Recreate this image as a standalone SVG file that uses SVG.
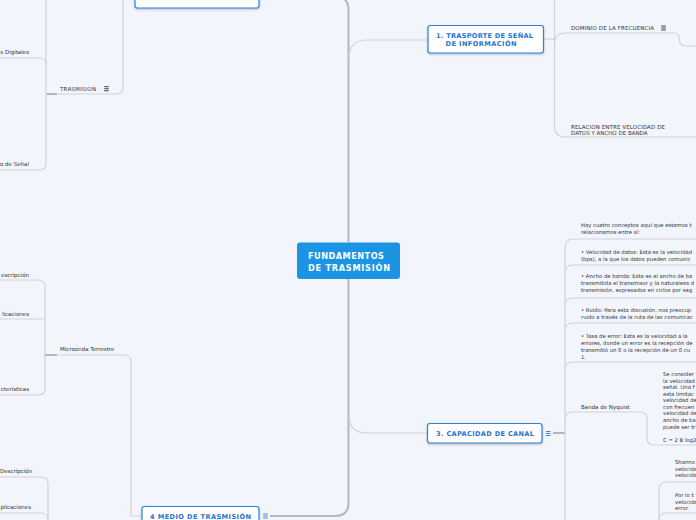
<svg xmlns="http://www.w3.org/2000/svg" width="696" height="520" viewBox="0 0 696 520">
<style>
.c{fill:none;stroke:#cfd3dc;stroke-width:1.2}
.k{fill:none;stroke:#b4b6bb;stroke-width:2}
.t{font-family:"DejaVu Sans",Verdana,sans-serif;font-size:5.5px;fill:#333}
.b{font-family:"DejaVu Sans",Verdana,sans-serif;font-size:5.3px;fill:#333}
.n{fill:#fff;stroke:#2f80d8;stroke-width:1.2}
.nt{font-family:"DejaVu Sans",Verdana,sans-serif;font-weight:bold;font-size:6.6px;fill:#1f74cf}
.ct{font-family:"DejaVu Sans",Verdana,sans-serif;font-weight:bold;font-size:8.2px;fill:#fff}
</style>
<defs>
<filter id="sh" x="-10%" y="-20%" width="120%" height="150%"><feDropShadow dx="0" dy="1" stdDeviation="0.8" flood-color="#000" flood-opacity="0.25"/></filter>
<g id="menu"><path d="M-2.3,-2H2.3M-2.3,0H2.3M-2.3,2H2.3" stroke-width="0.9"/></g>
</defs>
<rect width="696" height="520" fill="#f2f5fc"/>
<g id="connectors">
<path class="k" d="M348.5,242V10Q348.5,-4 334,-4"/>
<path class="k" d="M348.5,279V503Q348.5,516 335,516H270"/>
<path class="c" d="M349,58Q349,40 367,40H428"/>
<path class="c" d="M349,415Q349,433 367,433H427"/>
<path class="c" d="M544,39H554.5"/>
<path class="c" d="M554.5,0V126Q554.5,137 566,137H696"/>
<path class="c" d="M554.5,44Q554.5,33 566,33H673Q679.5,33 679.5,39.5Q679.5,46 686,46H696"/>
<path class="k" d="M553,433H565"/>
<path class="c" d="M696,239H574Q565,239 565,248V520"/>
<path class="c" d="M565,273Q565,265 573,265H696"/>
<path class="c" d="M565,306Q565,298 573,298H696"/>
<path class="c" d="M565,331Q565,323 573,323H696"/>
<path class="c" d="M565,370Q565,362 573,362H696"/>
<path class="c" d="M565,420Q565,412 573,412H640Q647,412 647,419V438Q647,445 654,445H696"/>
<path class="c" d="M659,520V490Q659,482 667,482H696"/>
<path class="c" d="M659,520Q659,513 667,513H696"/>
<path class="c" d="M46,94H116Q123,94 123,87V0"/>
<path class="k" d="M46,94H57"/>
<path class="c" d="M46,0V163Q46,170 39,170H0"/>
<path class="c" d="M0,58H39Q46,58 46,65"/>
<path class="c" d="M0,280H38Q45,280 45,287V388Q45,395 38,395H0"/>
<path class="c" d="M0,319H45"/>
<path class="c" d="M45,355H124Q131,355 131,362V516H142"/>
<path class="k" d="M45,355H57"/>
<path class="c" d="M0,477H41Q48,477 48,484V520"/>
<path class="c" d="M0,513H41Q48,513 48,520"/>
</g>
<g id="node-top">
<rect class="n" x="135" y="-20" width="124" height="28" rx="2.5" filter="url(#sh)"/>
</g>
<g id="node-center">
<rect x="297" y="242.5" width="103" height="36.5" rx="3" fill="#1b95e3"/>
<text class="ct" x="308" y="259" textLength="76">FUNDAMENTOS</text>
<text class="ct" x="308" y="270.5" textLength="82">DE TRASMISIÓN</text>
</g>
<g id="node-1">
<rect class="n" x="428" y="25.5" width="115.5" height="27.5" rx="2.5" filter="url(#sh)"/>
<text class="nt" x="436" y="37.6" textLength="97">1. TRASPORTE DE SEÑAL</text>
<text class="nt" x="445.5" y="46" textLength="71">DE INFORMACIÓN</text>
</g>
<g id="node-3">
<rect class="n" x="427.5" y="423.5" width="114.5" height="19.5" rx="2.5" filter="url(#sh)"/>
<text class="nt" x="436" y="436" textLength="98">3. CAPACIDAD DE CANAL</text>
<use href="#menu" x="548.3" y="433.5" stroke="#2f80d8"/>
</g>
<g id="node-4">
<rect class="n" x="142" y="506.5" width="117" height="22" rx="2.5" filter="url(#sh)"/>
<text class="nt" x="150" y="518.5" textLength="101">4 MEDIO DE TRASMISIÓN</text>
<use href="#menu" x="265.5" y="516" stroke="#2f80d8"/>
</g>
<g id="trasmision">
<text class="t" x="60" y="91" textLength="36">TRASMISIÓN</text>
<use href="#menu" x="106.5" y="88.7" stroke="#333"/>
</g>
<g id="senales-digitales"><text class="t" x="29" y="54" text-anchor="end">s Digitales</text></g>
<g id="tipo-senal"><text class="t" x="29" y="166" text-anchor="end">o de Señal</text></g>
<g id="microonda"><text class="t" x="60" y="351">Microonda Terrestre</text></g>
<g id="mt-descripcion"><text class="t" x="29" y="277" text-anchor="end">escripción</text></g>
<g id="mt-aplicaciones"><text class="t" x="29" y="316" text-anchor="end">licaciones</text></g>
<g id="mt-caracteristicas"><text class="t" x="29" y="391" text-anchor="end">cterísticas</text></g>
<g id="descripcion-2"><text class="t" x="0" y="473">Descripción</text></g>
<g id="aplicaciones-2"><text class="t" x="31" y="509" text-anchor="end">plicaciones</text></g>
<g id="dominio">
<text class="t" x="571" y="30" textLength="83">DOMINIO DE LA FRECUENCIA</text>
<use href="#menu" x="663.5" y="28" stroke="#333"/>
</g>
<g id="relacion">
<text class="t" x="571" y="128.5" textLength="94">RELACIÓN ENTRE VELOCIDAD DE</text>
<text class="t" x="571" y="134.5">DATOS Y  ANCHO DE BANDA</text>
</g>
<g id="cuatro-conceptos">
<text class="b" x="581" y="227">Hay cuatro conceptos aquí que estamos t</text>
<text class="b" x="581" y="234">relacionamos entre sí:</text>
</g>
<g id="velocidad-datos">
<text class="b" x="581" y="254">• Velocidad de datos: Esta es la velocidad</text>
<text class="b" x="581" y="261">(bps), a la que los datos pueden comunic</text>
</g>
<g id="ancho-banda">
<text class="b" x="581" y="278">• Ancho de banda: Esta es el ancho de ba</text>
<text class="b" x="581" y="285">transmitida el transmisor y la naturaleza d</text>
<text class="b" x="581" y="292">transmisión, expresados en ciclos por seg</text>
</g>
<g id="ruido">
<text class="b" x="581" y="312">• Ruido: Para esta discusión, nos preocup</text>
<text class="b" x="581" y="319">ruido a través de la ruta de las comunicac</text>
</g>
<g id="tasa-error">
<text class="b" x="581" y="338">• Tasa de error: Esta es la velocidad a la</text>
<text class="b" x="581" y="345">errores, donde un error es la recepción de</text>
<text class="b" x="581" y="352">transmitió un 0 o la recepción de un 0 cu</text>
<text class="b" x="581" y="359">1.</text>
</g>
<g id="nyquist"><text class="t" x="581" y="409">Banda de Nyquist</text></g>
<g id="nyquist-texto">
<text class="b" x="663" y="376">Se consider</text>
<text class="b" x="663" y="382.5">la velocidad</text>
<text class="b" x="663" y="389">señal. Una f</text>
<text class="b" x="663" y="395.6"> esta limitac</text>
<text class="b" x="663" y="402.2">velocidad de</text>
<text class="b" x="663" y="408.8">con frecuen</text>
<text class="b" x="663" y="415.4">velocidad de</text>
<text class="b" x="663" y="422">ancho de ba</text>
<text class="b" x="663" y="428.6">puede ser tr</text>
<text class="b" x="663" y="441.6">C = 2 B log2</text>
</g>
<g id="shannon">
<text class="b" x="675" y="464">Shanno</text>
<text class="b" x="675" y="470.6">velocida</text>
<text class="b" x="675" y="477.2">velocida</text>
</g>
<g id="por-lo-tanto">
<text class="b" x="675" y="497">Por lo t</text>
<text class="b" x="675" y="503.6">velocida</text>
<text class="b" x="675" y="510.2">error.</text>
</g>
</svg>
